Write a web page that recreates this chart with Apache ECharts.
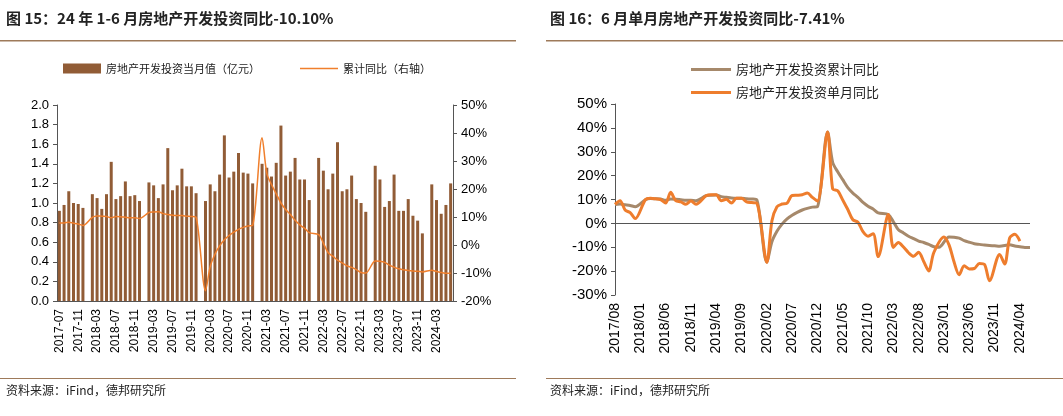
<!DOCTYPE html>
<html lang="en">
<head>
<meta charset="UTF-8">
<script src="https://cdn.jsdelivr.net/npm/echarts@6/dist/echarts.min.js"></script>
<style>
  html, body { margin: 0; padding: 0; background: #fff; }
  #main { width: 1063px; height: 416px; }
</style>
</head>
<body>
<div id="main"></div>
<script>
// ---- left chart: 2017-07 .. 2024-06, January is empty (Jan-Feb reported together)
var monthsL = [];
for (var y = 2017; y <= 2024; y++) {
    for (var m = 1; m <= 12; m++) {
        if (y === 2017 && m < 7) continue;
        if (y === 2024 && m > 6) continue;
        monthsL.push(y + '-' + (m < 10 ? '0' + m : m));
    }
}
var invest = [
    0.92, 0.98, 1.12, 1.00, 0.99, 0.95,
    null, 1.09, 1.05, 0.94, 1.09, 1.42, 1.04, 1.07, 1.22, 1.07, 1.08, 1.02,
    null, 1.21, 1.18, 1.05, 1.19, 1.56, 1.13, 1.18, 1.35, 1.17, 1.17, 1.10,
    null, 1.02, 1.19, 1.12, 1.29, 1.69, 1.26, 1.32, 1.51, 1.31, 1.30, 1.20,
    null, 1.40, 1.36, 1.27, 1.41, 1.79, 1.28, 1.32, 1.46, 1.24, 1.24, 1.03,
    null, 1.46, 1.33, 1.14, 1.30, 1.62, 1.12, 1.14, 1.28, 1.04, 1.00, 0.91,
    null, 1.38, 1.24, 0.96, 1.02, 1.29, 0.92, 0.92, 1.04, 0.87, 0.82, 0.69,
    null, 1.19, 1.03, 0.89, 0.98, 1.20
];
var cumYoy = [
    7.9, 7.9, 8.1, 7.8, 7.5, 7.0,
    null, 9.9, 10.4, 10.3, 10.2, 9.7, 10.2, 10.1, 9.9, 9.7, 9.7, 9.5,
    null, 11.6, 11.8, 11.9, 11.2, 10.9, 10.6, 10.5, 10.5, 10.3, 10.2, 9.9,
    null, -16.3, -7.7, -3.3, -0.3, 1.9, 3.4, 4.6, 5.6, 6.3, 6.8, 7.0,
    null, 38.3, 25.6, 21.6, 18.3, 15.0, 12.7, 10.9, 8.8, 7.2, 6.0, 4.4,
    null, 3.7, 0.7, -2.7, -4.0, -5.4, -6.4, -7.4, -8.0, -8.8, -9.8, -10.0,
    null, -5.7, -5.8, -6.2, -7.2, -7.9, -8.5, -8.8, -9.1, -9.3, -9.4, -9.6,
    null, -9.0, -9.5, -9.8, -10.1, -10.1
];

// ---- right chart: 2017/08 .. 2024/06
var monthsR = monthsL.slice(1).map(function (s) { return s.replace('-', '/'); });
var cumYoyR = cumYoy.slice(1);
var singleYoy = [
    8.0, 9.5, 5.6, 4.5, 2.0,
    null, 9.9, 10.5, 10.3, 10.0, 8.5, 13.0, 9.5, 9.0, 8.0, 9.4, 8.0,
    null, 11.6, 12.0, 12.0, 9.5, 10.1, 8.5, 10.5, 10.5, 9.0, 8.7, 8.5,
    null, -16.3, 1.0, 7.0, 8.1, 8.5, 11.7, 11.8, 12.0, 12.7, 10.9, 9.3,
    null, 38.3, 14.5, 13.7, 9.8, 5.8, 1.5, 0.5, -3.5, -5.4, -4.3, -13.9,
    null, 3.7, -10.1, -8.0, -9.9, -12.3, -13.8, -12.1, -16.0, -19.9, -12.2,
    null, -5.7, -9.0, -16.2, -21.5, -17.8, -19.1, -18.9, -16.8, -17.2, -24.0,
    null, -13.0, -17.0, -6.0, -4.6, -7.4
];

var chart = echarts.init(document.getElementById('main'), null, { renderer: 'canvas' });
var axisFont = { fontFamily: 'Liberation Sans, Arial', fontSize: 13, color: '#000' };
var cjk = 'Noto Sans CJK SC';
var lineIcon = 'path://M0,0H40V3H0Z';

chart.setOption({
    animation: false,
    graphic: [
        { type: 'text', left: 6, top: 11, style: { text: '图 15：24 年 1-6 月房地产开发投资同比-10.10%', font: 'bold 15px "' + cjk + '"', fill: '#222' } },
        { type: 'text', left: 550, top: 11, style: { text: '图 16：6 月单月房地产开发投资同比-7.41%', font: 'bold 15px "' + cjk + '"', fill: '#222' } },
        { type: 'rect', shape: { x: 0, y: 40, width: 516, height: 1.5 }, style: { fill: '#9E7A5A' } },
        { type: 'rect', shape: { x: 546, y: 40, width: 517, height: 1.5 }, style: { fill: '#9E7A5A' } },
        { type: 'rect', shape: { x: 0, y: 378, width: 516, height: 1 }, style: { fill: '#9E7A5A' } },
        { type: 'rect', shape: { x: 546, y: 378, width: 517, height: 1 }, style: { fill: '#9E7A5A' } },
        { type: 'text', left: 6, top: 384, style: { text: '资料来源：iFind，德邦研究所', font: '12px "' + cjk + '"', fill: '#222' } },
        { type: 'text', left: 550, top: 384, style: { text: '资料来源：iFind，德邦研究所', font: '12px "' + cjk + '"', fill: '#222' } }
    ],
    legend: [
        {
            left: 58, top: 58, itemGap: 40, itemWidth: 38, itemHeight: 10,
            textStyle: { fontFamily: cjk, fontSize: 11, color: '#222' },
            data: [
                { name: '房地产开发投资当月值（亿元）', icon: 'rect' },
                { name: '累计同比（右轴）', icon: 'path://M0,0H40V1.6H0Z' }
            ]
        },
        {
            left: 686, top: 58, orient: 'vertical', itemGap: 10, itemWidth: 40, itemHeight: 4,
            textStyle: { fontFamily: cjk, fontSize: 13, color: '#222' },
            data: [
                { name: '房地产开发投资累计同比', icon: lineIcon },
                { name: '房地产开发投资单月同比', icon: lineIcon }
            ]
        }
    ],
    grid: [
        { left: 57, top: 105, width: 396, height: 196 },
        { left: 615, top: 104, width: 415, height: 191 }
    ],
    xAxis: [
        {
            type: 'category', gridIndex: 0, data: monthsL, boundaryGap: true,
            axisLine: { lineStyle: { color: '#555' } },
            axisTick: { show: false },
            axisLabel: Object.assign({}, axisFont, { rotate: 90, interval: 3, fontSize: 12 })
        },
        {
            type: 'category', gridIndex: 1, data: monthsR, boundaryGap: false,
            axisLine: { show: false, onZero: false },
            axisTick: { show: false },
            axisLabel: Object.assign({}, axisFont, { rotate: 90, interval: 4, fontSize: 14 })
        }
    ],
    yAxis: [
        {
            type: 'value', gridIndex: 0, min: 0, max: 2, interval: 0.2,
            splitLine: { show: false },
            axisLine: { show: true, lineStyle: { color: '#555' } },
            axisTick: { show: true, length: 4 },
            axisLabel: Object.assign({ formatter: function (v) { return v.toFixed(1); } }, axisFont)
        },
        {
            type: 'value', gridIndex: 0, min: -20, max: 50, interval: 10, position: 'right',
            splitLine: { show: false },
            axisLine: { show: true, lineStyle: { color: '#555' } },
            axisTick: { show: true, length: 4 },
            axisLabel: Object.assign({ formatter: '{value}%' }, axisFont)
        },
        {
            type: 'value', gridIndex: 1, min: -30, max: 50, interval: 10,
            splitLine: { show: false },
            axisLine: { show: true, lineStyle: { color: '#555' } },
            axisTick: { show: true, length: 4 },
            axisLabel: Object.assign({ formatter: '{value}%' }, axisFont, { fontSize: 15 })
        }
    ],
    series: [
        {
            name: '房地产开发投资当月值（亿元）', type: 'bar', xAxisIndex: 0, yAxisIndex: 0,
            data: invest, barWidth: 3, itemStyle: { color: '#915C36' }
        },
        {
            name: '累计同比（右轴）', type: 'line', xAxisIndex: 0, yAxisIndex: 1,
            data: cumYoy, connectNulls: true, smooth: 0.3, symbol: 'none',
            lineStyle: { color: '#F07F2C', width: 1.5 }, itemStyle: { color: '#F07F2C' }
        },
        {
            name: '房地产开发投资累计同比', type: 'line', xAxisIndex: 1, yAxisIndex: 2,
            data: cumYoyR, connectNulls: true, smooth: 0.3, symbol: 'none',
            lineStyle: { color: '#A6896B', width: 3 }, itemStyle: { color: '#A6896B' },
            markLine: {
                silent: true, symbol: 'none', label: { show: false },
                lineStyle: { color: '#555', type: 'solid', width: 1 },
                data: [{ yAxis: 0 }]
            }
        },
        {
            name: '房地产开发投资单月同比', type: 'line', xAxisIndex: 1, yAxisIndex: 2,
            data: singleYoy, connectNulls: true, smooth: 0.3, symbol: 'none',
            lineStyle: { color: '#EE7D2D', width: 3 }, itemStyle: { color: '#EE7D2D' }
        }
    ]
});
</script>
</body>
</html>
